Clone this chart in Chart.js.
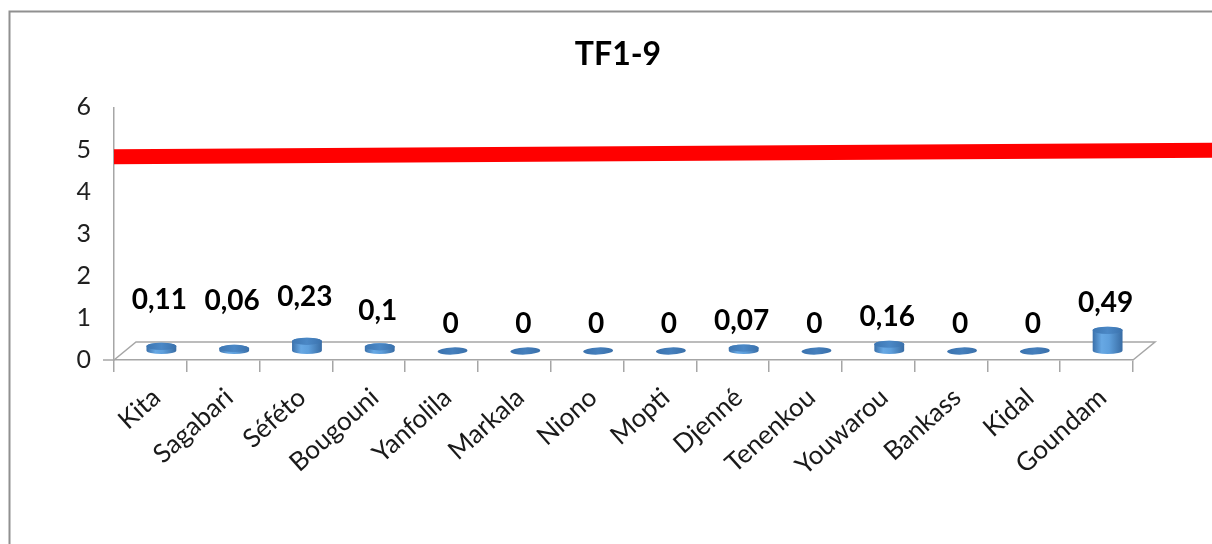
<!DOCTYPE html>
<html><head><meta charset="utf-8">
<script src="https://cdn.jsdelivr.net/npm/chart.js@4.4.1/dist/chart.umd.min.js"></script>
<style>html,body{margin:0;padding:0;background:#fff;overflow:hidden}</style>
</head><body>
<canvas id="c" width="1212" height="544"></canvas>
<script>
const chartTitle = 'TF1-9';
const categories = ['Kita','Sagabari','Séféto','Bougouni','Yanfolila','Markala','Niono','Mopti','Djenné','Tenenkou','Youwarou','Bankass','Kidal','Goundam'];
const values = [0.11, 0.06, 0.23, 0.1, 0, 0, 0, 0, 0.07, 0, 0.16, 0, 0, 0.49];
const refLineX = [0, 15.1];
const refLineY = [4.83, 4.98];
const yMin = 0, yMax = 6, yStep = 1;

const FONT = 'Lato, "Open Sans", sans-serif';
const DEPTH_DX = 22, DEPTH_DY = -18;

function fmt(v){ return String(v).replace('.', ','); }

const framePlugin = {
  id: 'frame',
  beforeDraw(chart){
    const ctx = chart.ctx;
    ctx.save();
    ctx.fillStyle = '#fff';
    ctx.fillRect(0,0,chart.width,chart.height);
    ctx.strokeStyle = '#909090';
    ctx.lineWidth = 2;
    ctx.beginPath();
    ctx.moveTo(9.5, chart.height + 5);
    ctx.lineTo(9.5, 11.5);
    ctx.lineTo(chart.width + 5, 11.5);
    ctx.stroke();
    ctx.restore();
  }
};

const floorPlugin = {
  id: 'floor',
  beforeDatasetsDraw(chart){
    const ctx = chart.ctx, xs = chart.scales.x, ys = chart.scales.y;
    const l = xs.left, r = xs.right, b = ys.getPixelForValue(0);
    ctx.save();
    ctx.strokeStyle = '#a6a6a6';
    ctx.lineWidth = 1.5;
    ctx.beginPath();
    ctx.moveTo(l, b);
    ctx.lineTo(l + DEPTH_DX, b + DEPTH_DY);
    ctx.lineTo(r + DEPTH_DX, b + DEPTH_DY);
    ctx.lineTo(r, b);
    ctx.stroke();
    ctx.beginPath();
    ctx.moveTo(l - 11, b);
    ctx.lineTo(l, b);
    ctx.stroke();
    ctx.restore();
  }
};

function drawCylinder(ctx, cx, top, base, rx, ry){
  if (base - top > 0.5) {
    const g = ctx.createLinearGradient(cx - rx, 0, cx + rx, 0);
    g.addColorStop(0, '#3a70aa');
    g.addColorStop(0.3, '#67a8e4');
    g.addColorStop(0.55, '#5e9fdc');
    g.addColorStop(1, '#386ca4');
    ctx.beginPath();
    ctx.moveTo(cx - rx, top);
    ctx.lineTo(cx - rx, base);
    ctx.ellipse(cx, base, rx, ry, 0, Math.PI, 0, true);
    ctx.lineTo(cx + rx, top);
    ctx.ellipse(cx, top, rx, ry, 0, 0, Math.PI, true);
    ctx.closePath();
    ctx.fillStyle = g;
    ctx.fill();
    const t = ctx.createLinearGradient(cx - rx, top, cx + rx, top);
    t.addColorStop(0, '#3d76b2');
    t.addColorStop(0.5, '#4b88c6');
    t.addColorStop(1, '#3b72ad');
    ctx.beginPath();
    ctx.ellipse(cx, top, rx, ry, 0, 0, Math.PI * 2);
    ctx.fillStyle = t;
    ctx.fill();
  } else {
    const t = ctx.createLinearGradient(cx - rx, base, cx + rx, base);
    t.addColorStop(0, '#3a72ae');
    t.addColorStop(0.5, '#4680bd');
    t.addColorStop(1, '#3a70aa');
    ctx.beginPath();
    ctx.ellipse(cx, base, rx, ry, -0.04, 0, Math.PI * 2);
    ctx.fillStyle = t;
    ctx.fill();
  }
}

const cylinderPlugin = {
  id: 'cyl',
  afterDatasetsDraw(chart, args, opts){
    const ctx = chart.ctx;
    const xs = chart.scales.x;
    const meta = chart.getDatasetMeta(0);
    const ds = chart.data.datasets[0];
    const rx = (xs.right - xs.left) / categories.length * 0.41 / 2;
    const shift = opts.labelShift || [];
    ctx.save();
    meta.data.forEach((el, i) => {
      const cx = el.x + DEPTH_DX / 2;
      const top = el.y + DEPTH_DY / 2;
      const base = el.base + DEPTH_DY / 2;
      drawCylinder(ctx, cx, top, base, rx, 3.6);
      ctx.fillStyle = '#000';
      ctx.font = 'bold 28px ' + FONT;
      ctx.textAlign = 'center';
      ctx.textBaseline = 'middle';
      ctx.fillText(fmt(ds.data[i]), cx - 2, top - 27 + (shift[i] || 0));
    });
    ctx.restore();
  }
};

new Chart(document.getElementById('c'), {
  type: 'bar',
  data: {
    labels: categories,
    datasets: [
      {
        type: 'bar',
        data: values,
        backgroundColor: 'rgba(0,0,0,0)',
        borderWidth: 0,
        grouped: false,
        barPercentage: 0.41,
        categoryPercentage: 1,
        order: 2
      },
      {
        type: 'line',
        data: refLineX.map((x, i) => ({x: x, y: refLineY[i]})),
        xAxisID: 'xr',
        borderColor: '#ff0000',
        borderWidth: 15,
        borderCapStyle: 'butt',
        pointRadius: 0,
        fill: false,
        tension: 0,
        clip: false,
        order: 1
      }
    ]
  },
  options: {
    responsive: false,
    animation: false,
    layout: { padding: { left: 56, right: 32, top: 35, bottom: 0 } },
    plugins: {
      legend: { display: false },
      tooltip: { enabled: false },
      cyl: { labelShift: [-19, -21, -17, -9, 0, 0, 0, 0, 0, 0, 0, 0, 0, 0] },
      title: {
        display: true,
        text: chartTitle,
        color: '#000',
        font: { family: FONT, size: 32, weight: 'bold' },
        padding: { top: 0, bottom: 34 }
      }
    },
    scales: {
      x: {
        type: 'category',
        offset: true,
        grid: { offset: true, drawOnChartArea: false, drawTicks: true, tickLength: 12, color: '#a6a6a6', lineWidth: 1.5 },
        border: { color: '#a6a6a6', width: 1.5 },
        ticks: {
          autoSkip: false, minRotation: 42, maxRotation: 42,
          font: { family: FONT, size: 26 }, color: '#1a1a1a', padding: 10, labelOffset: 6
        },
        afterFit(s){ s.height = 184; }
      },
      xr: { type: 'linear', display: false, offset: false, min: 0, max: categories.length, grid: { offset: false } },
      y: {
        min: yMin, max: yMax,
        ticks: { stepSize: yStep, font: { family: FONT, size: 25 }, color: '#1f1f1f', padding: 23 },
        grid: { drawOnChartArea: false, drawTicks: false },
        border: { color: '#a6a6a6', width: 1.5 },
        afterFit(s){ s.width = 58; }
      },
      yr: {
        position: 'right', type: 'linear', display: true,
        ticks: { display: false }, grid: { display: false, drawTicks: false }, border: { display: false },
        afterFit(s){ s.width = 47; }
      }
    }
  },
  plugins: [framePlugin, floorPlugin, cylinderPlugin]
});
</script>
</body></html>
